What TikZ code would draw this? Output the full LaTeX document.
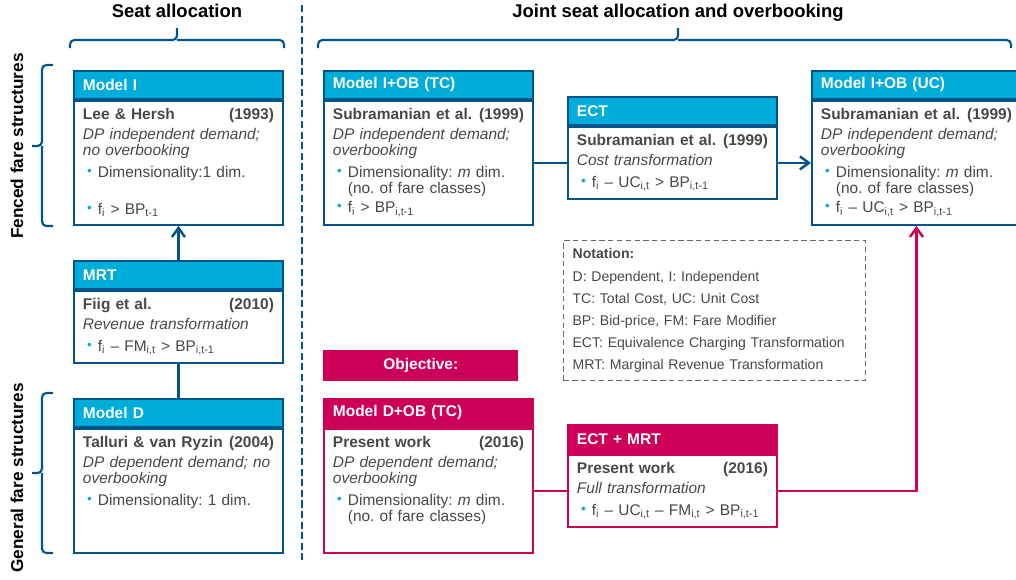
\documentclass[tikz,border=0pt]{standalone}
\usepackage{fontspec}
\setmainfont{Liberation Sans}
\usepackage{xcolor}
\usepackage{tikz}
\usetikzlibrary{arrows.meta,positioning,calc}
\definecolor{boxblue}{RGB}{0,84,140}
\definecolor{hdcyan}{RGB}{0,172,216}
\definecolor{objpink}{RGB}{205,0,88}
\definecolor{txtgray}{RGB}{72,72,72}
\definecolor{notegray}{RGB}{105,105,105}
\newcommand{\bodyfont}{\fontsize{8.8}{9.1}\selectfont\frenchspacing}
\newcommand{\itm}[2][2pt]{\par\vspace{#1}\noindent\hspace*{2.3pt}\makebox[6.2pt][l]{\textcolor{hdcyan}{\raisebox{1.2pt}{\fontsize{7.6}{8}\selectfont\textbullet}}}\parbox[t]{\dimexpr\linewidth-8.5pt\relax}{#2}}
\tikzset{
  hdr/.style={draw=boxblue, line width=1.1pt, fill=hdcyan, anchor=north west, minimum height=0.56cm, inner xsep=0.18cm, inner ysep=0pt, text width=3.82cm, align=left, text=white, font=\bodyfont\bfseries},
  pinkhdr/.style={hdr, draw=objpink, fill=objpink},
  body/.style={draw=boxblue, line width=1.1pt, fill=white, anchor=north west, inner xsep=0.18cm, inner ysep=2.8pt, text width=3.82cm, align=left, text height=8pt, text depth=57pt, font=\bodyfont, text=txtgray},
  shortbody/.style={body, text depth=27.4pt},
  pinkline/.style={draw=objpink},
  objbox/.style={fill=objpink, text=white, font=\bodyfont\bfseries, minimum width=3.9cm, minimum height=0.62cm, anchor=north west, inner sep=0pt},
  notebox/.style={draw=notegray, dash pattern=on 3pt off 2pt, line width=0.7pt, anchor=north west, minimum height=2.8cm, inner xsep=0.18cm, text width=5.68cm, align=left, font=\fontsize{8}{12.6}\selectfont, text=txtgray},
  ttl/.style={font=\fontsize{10.5}{12}\selectfont\bfseries, anchor=base},
  sidettl/.style={ttl, font=\fontsize{9.8}{12}\selectfont\bfseries, rotate=90},
  brk/.style={boxblue, line width=1.2pt, rounded corners=2.5pt},
  cnblue/.style={boxblue, line width=1.4pt},
  cnpink/.style={objpink, line width=1.4pt},
  arr/.style={-{Straight Barb[length=1.8mm,width=2.6mm]}}
}
\begin{document}
\begin{tikzpicture}[x=0.02cm, y=-0.02cm]
  \useasboundingbox (0,0) rectangle (1016,579);

  % titles and brackets
  \node[ttl] (tseat) at (177,17) {Seat allocation};
  \node[ttl] (tjoint) at (678,17) {Joint seat allocation and overbooking};
  \node[sidettl] (tfenced) at (23,146) {Fenced fare structures};
  \node[sidettl] (tgeneral) at (23,478) {General fare structures};
  \draw[brk] (70,48) |- (177,40) -- (177,28);
  \draw[brk] (177,40) -| (284,48);
  \draw[brk] (318,48) |- (678,40) -- (678,28);
  \draw[brk] (678,40) -| (1011,48);
  \draw[brk] (53,65) -| (42,146) -- (32,146);
  \draw[brk] (42,146) |- (53,226);
  \draw[brk] (53,393) -| (42,473) -- (32,473);
  \draw[brk] (42,473) |- (53,553);
  \draw[boxblue, line width=1.3pt, dash pattern=on 4pt off 2pt] (302,5) -- (302,563);

  % seat allocation column
  \node[hdr] (mI-h) at (73,70) {Model I};
  \node[body] (mI) at (mI-h.south west) {\textbf{Lee \& Hersh\hfill(1993)}\par\vspace{1.8pt}
    \textit{DP independent demand;\\no overbooking}
    \itm[3.5pt]{Dimensionality:1 dim.}
    \itm[12pt]{f\textsubscript{i} > BP\textsubscript{t-1}}};

  \node[hdr] (mrt-h) at (73,260) {MRT};
  \node[shortbody] (mrt) at (mrt-h.south west) {\textbf{Fiig et al.\hfill(2010)}\par\vspace{1.8pt}
    \textit{Revenue transformation}
    \itm[3.5pt]{f\textsubscript{i} -- FM\textsubscript{i,t} > BP\textsubscript{i,t-1}}};

  \node[hdr] (mD-h) at (73,398) {Model D};
  \node[body] (mD) at (mD-h.south west) {\textbf{Talluri \& van Ryzin\hfill(2004)}\par\vspace{1.8pt}
    \textit{DP dependent demand; no\\overbooking}
    \itm[3.5pt]{Dimensionality: 1 dim.}};

  % joint allocation and overbooking
  \node[hdr] (iobtc-h) at (323,70) {Model I+OB (TC)};
  \node[body] (iobtc) at (iobtc-h.south west) {\textbf{Subramanian et al.\hfill(1999)}\par\vspace{1.8pt}
    \textit{DP independent demand;\\overbooking}
    \itm[3.5pt]{Dimensionality: \textit{m} dim.\\(no. of fare classes)}
    \itm{f\textsubscript{i} > BP\textsubscript{i,t-1}}};

  \node[hdr] (ect-h) at (567,96) {ECT};
  \node[shortbody] (ect) at (ect-h.south west) {\textbf{Subramanian et al.\hfill(1999)}\par\vspace{1.8pt}
    \textit{Cost transformation}
    \itm[3.5pt]{f\textsubscript{i} -- UC\textsubscript{i,t} > BP\textsubscript{i,t-1}}};

  \node[hdr] (iobuc-h) at (811,70) {Model I+OB (UC)};
  \node[body] (iobuc) at (iobuc-h.south west) {\textbf{Subramanian et al.\hfill(1999)}\par\vspace{1.8pt}
    \textit{DP independent demand;\\overbooking}
    \itm[3.5pt]{Dimensionality: \textit{m} dim.\\(no. of fare classes)}
    \itm{f\textsubscript{i} -- UC\textsubscript{i,t} > BP\textsubscript{i,t-1}}};

  \node[objbox] (obj) at (323,350) {Objective:};
  \node[notebox] (note) at (563,240) {\textbf{Notation:}\\
    D: Dependent, I: Independent\\
    TC: Total Cost, UC: Unit Cost\\
    BP: Bid-price, FM: Fare Modifier\\
    ECT: Equivalence Charging Transformation\\
    MRT: Marginal Revenue Transformation};

  \node[pinkhdr] (dobtc-h) at (323,398) {Model D+OB (TC)};
  \node[body, pinkline] (dobtc) at (dobtc-h.south west) {\textbf{Present work\hfill(2016)}\par\vspace{1.8pt}
    \textit{DP dependent demand;\\overbooking}
    \itm[3.5pt]{Dimensionality: \textit{m} dim.\\(no. of fare classes)}};

  \node[pinkhdr] (ectmrt-h) at (567,424) {ECT + MRT};
  \node[shortbody, pinkline] (ectmrt) at (ectmrt-h.south west) {\textbf{Present work\hfill(2016)}\par\vspace{1.8pt}
    \textit{Full transformation}
    \itm[3.5pt]{f\textsubscript{i} -- UC\textsubscript{i,t} -- FM\textsubscript{i,t} > BP\textsubscript{i,t-1}}};

  % connectors
  \draw[cnblue, arr] (mrt-h.north) -- (mI.south);
  \draw[cnblue] (mD-h.north) -- (mrt.south);
  \draw[cnblue] (iobtc.east) -- (iobtc.east -| ect.west);
  \draw[cnblue, arr] (ect.east) -- (ect.east -| iobuc.west);
  \draw[cnpink] (dobtc.east) -- (dobtc.east -| ectmrt.west);
  \draw[cnpink, arr] (ectmrt.east) -| (iobuc.south);
\end{tikzpicture}
\end{document}
